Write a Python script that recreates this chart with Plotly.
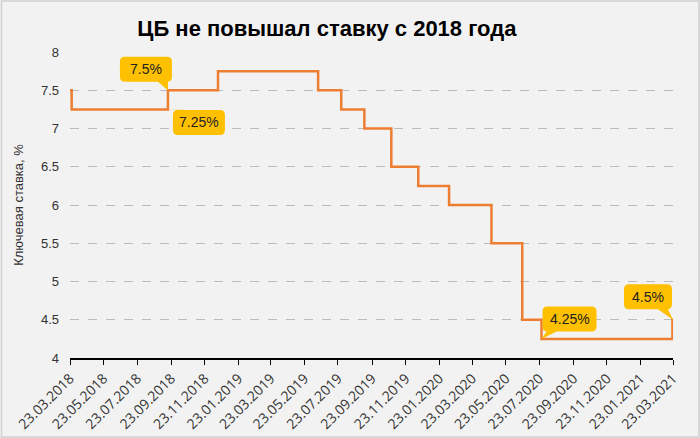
import plotly.graph_objects as go

# Key rate of the Bank of Russia, step changes (date, rate %)
dates = [
    "2018-03-23", "2018-03-26", "2018-09-17", "2018-12-17", "2019-06-17",
    "2019-07-29", "2019-09-09", "2019-10-28", "2019-12-16", "2020-02-10",
    "2020-04-27", "2020-06-22", "2020-07-27", "2021-03-22", "2021-03-23",
]
rates = [7.5, 7.25, 7.5, 7.75, 7.5, 7.25, 7.0, 6.5, 6.25, 6.0, 5.5, 4.5, 4.25, 4.5, 4.5]

tick_dates = [
    "2018-03-23", "2018-05-23", "2018-07-23", "2018-09-23", "2018-11-23",
    "2019-01-23", "2019-03-23", "2019-05-23", "2019-07-23", "2019-09-23",
    "2019-11-23", "2020-01-23", "2020-03-23", "2020-05-23", "2020-07-23",
    "2020-09-23", "2020-11-23", "2021-01-23", "2021-03-23",
]
tick_text = [f"{d[8:10]}.{d[5:7]}.{d[0:4]}" for d in tick_dates]

# callouts: point (date, rate), label text
callout_dates = ["2018-09-17", "2018-09-17", "2020-07-27", "2021-03-23"]
callout_rates = [7.5, 7.25, 4.25, 4.5]
callout_text = ["7.5%", "7.25%", "4.25%", "4.5%"]
# box centre offset from the point in pixels (y up) and box width
callout_offsets = [(-22, 21), (31, -13), (28, 20), (-25, 23)]
callout_widths = [52, 52, 54, 48]

orange = "#ED7D31"
yellow = "#FFC000"
bg = "#F2F2F2"


def callout_path(cx, cy, w, h=25, r=5):
    # rounded box + tail pointing to the anchor (0, 0)
    x0, x1 = cx - w / 2, cx + w / 2
    y0, y1 = cy - h / 2, cy + h / 2
    box = (
        f"M{x0 + r},{y0} L{x1 - r},{y0} Q{x1},{y0} {x1},{y0 + r} "
        f"L{x1},{y1 - r} Q{x1},{y1} {x1 - r},{y1} L{x0 + r},{y1} "
        f"Q{x0},{y1} {x0},{y1 - r} L{x0},{y0 + r} Q{x0},{y0} {x0 + r},{y0} Z"
    )
    ey = y0 if cy > 0 else y1
    if cx < 0:
        bx1, bx2 = x1 - 14, x1 - 4
    else:
        bx1, bx2 = x0 + 4, x0 + 14
    tail = f" M{bx1},{ey} L{bx2},{ey} L0,0 Z"
    return box + tail


fig = go.Figure(
    go.Scatter(
        x=dates,
        y=rates,
        mode="lines",
        line=dict(color=orange, width=2.5, shape="hv"),
        hoverinfo="x+y",
    )
)

for d, r, t, (cx, cy), w in zip(callout_dates, callout_rates, callout_text, callout_offsets, callout_widths):
    fig.add_shape(
        type="path", path=callout_path(cx, cy, w),
        xref="x", yref="y", xsizemode="pixel", ysizemode="pixel",
        xanchor=d, yanchor=r,
        fillcolor=yellow, line=dict(width=0), layer="above",
    )
    fig.add_annotation(
        x=d, y=r, text=t, showarrow=False,
        xshift=cx, yshift=cy,
        font=dict(family="Liberation Sans, Arial, sans-serif", size=14, color="#222222"),
    )

fig.update_layout(
    width=700,
    height=438,
    paper_bgcolor=bg,
    plot_bgcolor=bg,
    margin=dict(l=70, r=27, t=52, b=80),
    showlegend=False,
    title=dict(
        text="<b>ЦБ не повышал ставку с 2018 года</b>",
        x=0.467, xanchor="center", y=0.935, yanchor="middle",
        font=dict(family="Liberation Sans, Arial, sans-serif", size=22, color="#000000"),
    ),
    font=dict(family="Liberation Sans, Arial, sans-serif", color="#333333"),
)

fig.update_xaxes(
    range=["2018-03-23", "2021-03-23"],
    tickvals=tick_dates,
    ticktext=tick_text,
    tickangle=-45,
    ticks="outside",
    ticklen=5,
    tickcolor="#000000",
    showline=True,
    linecolor="#000000",
    linewidth=1.5,
    showgrid=False,
    zeroline=False,
    automargin=False,
    tickfont=dict(family="Open Sans, sans-serif", size=14, color="#333333"),
)

fig.update_yaxes(
    range=[4, 8],
    dtick=0.5,
    showgrid=True,
    gridcolor="#BBBBBB",
    griddash="dash",
    gridwidth=1,
    zeroline=False,
    showline=False,
    ticks="",
    ticklabelstandoff=10,
    automargin=False,
    tickfont=dict(size=13, color="#333333"),
    title=dict(text="Ключевая ставка, %", font=dict(size=13, color="#333333"), standoff=14),
)

# thin outer frame of the picture
fig.add_shape(
    type="rect", xref="paper", yref="paper",
    x0=-68.5 / 603, x1=1 + 26 / 603, y0=-79 / 306, y1=1 + 51 / 306,
    line=dict(color="#D0D0D0", width=1.5), fillcolor="rgba(0,0,0,0)", layer="below",
)

fig.write_html(
    "out.html",
    config={"displayModeBar": False},
    post_script="document.body.style.margin='0';",
)
